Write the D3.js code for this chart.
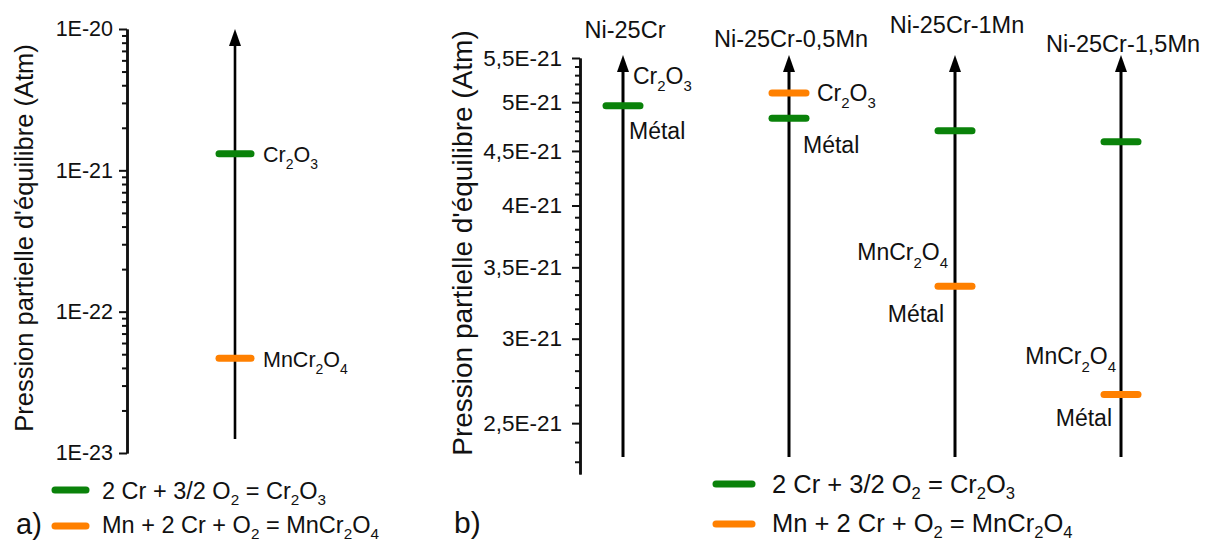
<!DOCTYPE html>
<html><head><meta charset="utf-8">
<script src="https://cdn.jsdelivr.net/npm/d3@7"></script>
<style>
body{margin:0;background:#fff}
text{font-family:"Liberation Sans",Arial,sans-serif;fill:#111}
</style>
</head><body><svg id="c" width="1206" height="541"></svg>
<script>
// ---------------- data ----------------
const leftReactions = ["Cr_2O_3", "MnCr_2O_4"];
const leftValues = [1.31e-21, 4.69e-23];
const leftTickValues = [1e-23, 1e-22, 1e-21, 1e-20];
const leftTickLabels = ["1E-23", "1E-22", "1E-21", "1E-20"];

const alloys = ["Ni-25Cr", "Ni-25Cr-0,5Mn", "Ni-25Cr-1Mn", "Ni-25Cr-1,5Mn"];
const cr2o3Values = [4.96e-21, 4.83e-21, 4.70e-21, 4.59e-21];
const mncr2o4Values = [null, 5.10e-21, 3.36e-21, 2.66e-21];
const rightTickValues = [2.5e-21, 3e-21, 3.5e-21, 4e-21, 4.5e-21, 5e-21, 5.5e-21];
const rightTickLabels = ["2,5E-21", "3E-21", "3,5E-21", "4E-21", "4,5E-21", "5E-21", "5,5E-21"];

const legendLabels = ["2 Cr + 3/2 O_2 = Cr_2O_3", "Mn + 2 Cr + O_2 = MnCr_2O_4"];
const yTitle = "Pression partielle d'équilibre (Atm)";
const panelLetters = ["a)", "b)"];

// ---------------- style / layout ----------------
const GREEN = "#0a820a", ORANGE = "#ff8000";
const seriesColors = [GREEN, ORANGE];
const svg = d3.select("#c");

function rich(sel, str, fs, shift = 0.32) {
  const parts = str.split(/(_\d)/).filter(s => s);
  let shifted = false;
  parts.forEach(p => {
    if (p[0] === "_") {
      sel.append("tspan").attr("font-size", fs * 0.65).attr("dy", fs * shift).text(p.slice(1));
      shifted = true;
    } else {
      const t = sel.append("tspan").text(p);
      if (shifted) { t.attr("dy", -fs * shift); shifted = false; }
    }
  });
  return sel;
}

function styleAxis(g, w) {
  g.select(".domain").attr("stroke", "#111").attr("stroke-width", w);
  g.selectAll(".tick line").attr("stroke", "#111").attr("stroke-width", 2);
}

function arrow(g, x, yTop, yBot, w) {
  g.append("line").attr("x1", x).attr("x2", x).attr("y1", yBot).attr("y2", yTop + 10)
    .attr("stroke", "#000").attr("stroke-width", w);
  g.append("path").attr("d", `M${x},${yTop} L${x - 6},${yTop + 17} L${x + 6},${yTop + 17} Z`).attr("fill", "#000");
}

function bar(g, x, y, half, color) {
  g.append("line").attr("x1", x - half).attr("x2", x + half).attr("y1", y).attr("y2", y)
    .attr("stroke", color).attr("stroke-width", 7).attr("stroke-linecap", "round");
}

// ================= Panel a =================
const yL = d3.scaleLog().domain([1e-23, 1e-20]).range([453, 29]);
const axL = 127;
const leftMinor = [];
for (let e = -23; e < -20; e++) for (let k = 2; k <= 9; k++) leftMinor.push(k * Math.pow(10, e));

const gLm = svg.append("g").attr("transform", `translate(${axL},0)`)
  .call(d3.axisLeft(yL).tickValues(leftMinor).tickSize(5).tickSizeOuter(0).tickFormat(""));
styleAxis(gLm, 2.5);
const gL = svg.append("g").attr("transform", `translate(${axL},0)`)
  .call(d3.axisLeft(yL).tickValues(leftTickValues).tickSize(8).tickSizeOuter(0).tickPadding(6)
    .tickFormat((d, i) => leftTickLabels[i]));
styleAxis(gL, 2.5);
gL.selectAll(".tick text").attr("font-size", 21.5).attr("font-family", "Liberation Sans").attr("fill", "#111");

svg.append("text").attr("transform", "translate(33,238) rotate(-90)").attr("text-anchor", "middle")
  .attr("font-size", 25.5).text(yTitle);

const xLeftArrow = 235;
const gArrL = svg.append("g");
arrow(gArrL, xLeftArrow, 29, 439, 2.6);
leftValues.forEach((v, i) => {
  bar(gArrL, xLeftArrow, yL(v), 16, seriesColors[i]);
  rich(gArrL.append("text").attr("x", xLeftArrow + 28).attr("y", yL(v) + 8.5).attr("font-size", 21.5), leftReactions[i], 21.5);
});

// legend a
const legA = svg.append("g");
[[490, 9], [526, 7]].forEach(([ly, off], i) => {
  legA.append("line").attr("x1", 55).attr("x2", 86).attr("y1", ly).attr("y2", ly)
    .attr("stroke", seriesColors[i]).attr("stroke-width", 7).attr("stroke-linecap", "round");
  rich(legA.append("text").attr("x", 102).attr("y", ly + off).attr("font-size", 23.5), legendLabels[i], 23.5, 0.26);
});
svg.append("text").attr("x", 16).attr("y", 534).attr("font-size", 29).text(panelLetters[0]);

// ================= Panel b =================
const yR = d3.scaleLog().domain([2.24e-21, 5.5e-21]).range([474, 58]);
const axR = 580;
const rightMinor = d3.range(23, 55).map(k => k * 1e-22).filter(v => Math.abs(v * 1e21 * 2 - Math.round(v * 1e21 * 2)) > 1e-6);

const gRm = svg.append("g").attr("transform", `translate(${axR},0)`)
  .call(d3.axisLeft(yR).tickValues(rightMinor).tickSize(5).tickSizeOuter(0).tickFormat(""));
styleAxis(gRm, 2.5);
const gR = svg.append("g").attr("transform", `translate(${axR},0)`)
  .call(d3.axisLeft(yR).tickValues(rightTickValues).tickSize(8).tickSizeOuter(0).tickPadding(10)
    .tickFormat((d, i) => rightTickLabels[i]));
styleAxis(gR, 2.5);
gR.selectAll(".tick text").attr("font-size", 22.5).attr("font-family", "Liberation Sans").attr("fill", "#111");

svg.append("text").attr("transform", "translate(472,243) rotate(-90)").attr("text-anchor", "middle")
  .attr("font-size", 28).text(yTitle);

const xA = d3.scalePoint().domain(alloys).range([623, 1121]);
const titleBaselines = [38, 47, 33, 52];
// label layout: [series index, text, dx, dy, anchor]
const annotLayout = [
  [[0, "Cr_2O_3", 10, -22, "start"], [0, "Métal", 6, 33, "start"]],
  [[1, "Cr_2O_3", 28, 8, "start"], [0, "Métal", 14, 35, "start"]],
  [[1, "MnCr_2O_4", -7, -26, "end"], [1, "Métal", -11, 36, "end"]],
  [[1, "MnCr_2O_4", -5, -30, "end"], [1, "Métal", -9, 32, "end"]]
];
const gB = svg.append("g");
alloys.forEach((a, i) => {
  const x = xA(a);
  gB.append("text").attr("x", x + 2).attr("y", titleBaselines[i]).attr("text-anchor", "middle")
    .attr("font-size", 23.5).text(a);
  arrow(gB, x, 55, 457, 3);
  const vals = [cr2o3Values[i], mncr2o4Values[i]];
  vals.forEach((v, s) => { if (v != null) bar(gB, x, yR(v), 17, seriesColors[s]); });
  annotLayout[i].forEach(([s, t, dx, dy, anc]) => {
    rich(gB.append("text").attr("x", x + dx).attr("y", yR(vals[s]) + dy).attr("text-anchor", anc)
      .attr("font-size", 23), t, 23);
  });
});

// legend b
const legB = svg.append("g");
[[484, 9], [524, 8]].forEach(([ly, off], i) => {
  legB.append("line").attr("x1", 716).attr("x2", 752).attr("y1", ly).attr("y2", ly)
    .attr("stroke", seriesColors[i]).attr("stroke-width", 7).attr("stroke-linecap", "round");
  rich(legB.append("text").attr("x", 772).attr("y", ly + off).attr("font-size", 25.5), legendLabels[i], 25.5, 0.24);
});
svg.append("text").attr("x", 454).attr("y", 533).attr("font-size", 30).text(panelLetters[1]);
</script>
</body></html>
